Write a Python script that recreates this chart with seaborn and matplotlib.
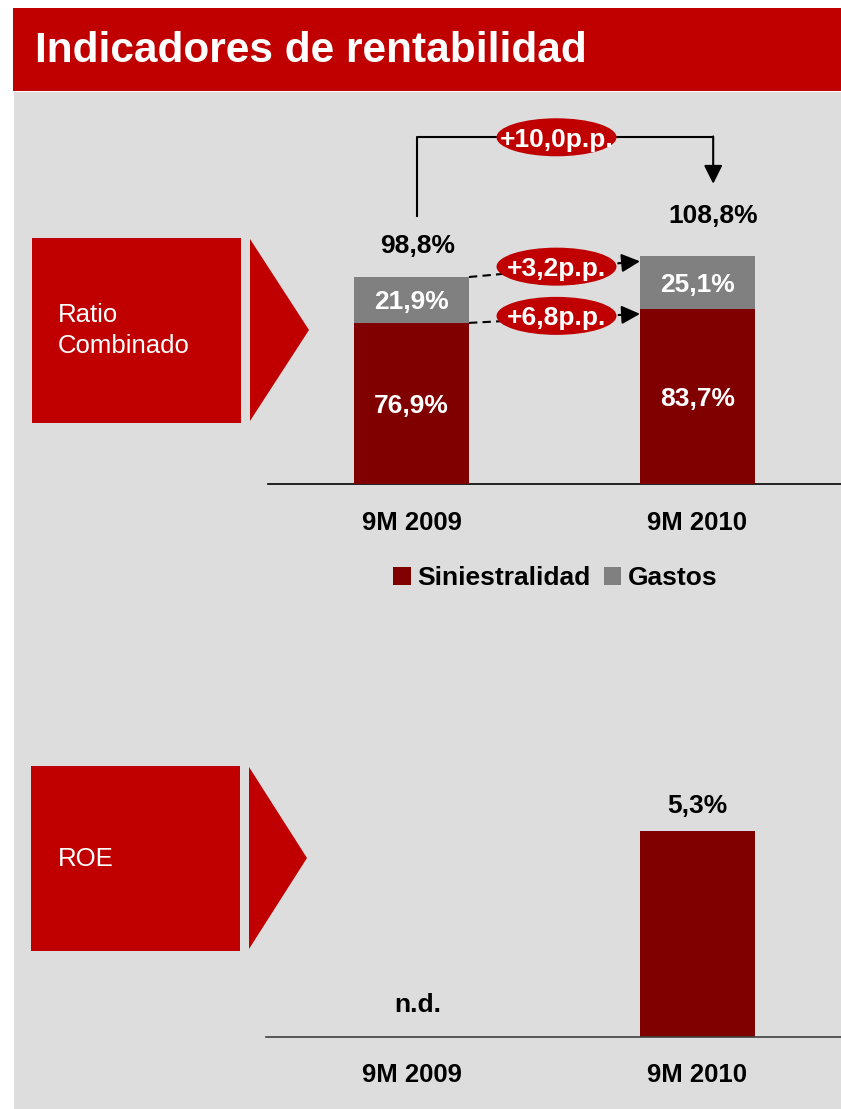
import numpy as np
import pandas as pd
import matplotlib
matplotlib.use("Agg")
import matplotlib.pyplot as plt
from matplotlib.patches import Rectangle, Polygon, Ellipse, Patch
from matplotlib.transforms import offset_copy
import seaborn as sns

# ---------------- data ----------------
periods = ["9M 2009", "9M 2010"]
siniestralidad = [76.9, 83.7]
gastos = [21.9, 25.1]
roe = [np.nan, 5.3]
roe_labels = ["n.d.", "5,3%"]
delta_total = "+10,0p.p."
delta_gastos = "+3,2p.p."
delta_sini = "+6,8p.p."
title = "Indicadores de rentabilidad"
section_labels = ["Ratio\nCombinado", "ROE"]
legend_labels = ["Siniestralidad", "Gastos"]

RED = "#C00000"
DARK = "#800000"
GRAY = "#808080"
BG = "#DDDDDD"

sns.set_style("white")
plt.rcParams["font.family"] = ["Liberation Sans", "DejaVu Sans"]
plt.rcParams["text.color"] = "black"
plt.rcParams["xtick.color"] = "black"
plt.rcParams["xtick.labelcolor"] = "black"

W, H = 841, 1109
fig = plt.figure(figsize=(W / 100, H / 100), dpi=100, facecolor="white")


def fx(x):
    return x / W


def fy(y):
    return 1 - y / H


def add_rect(x0, y0, x1, y1, color):
    fig.patches.append(Rectangle((fx(x0), fy(y1)), fx(x1) - fx(x0), fy(y0) - fy(y1),
                                 transform=fig.transFigure, facecolor=color,
                                 edgecolor="none", zorder=-5))


# background + title band
add_rect(14, 92, W, H, BG)
add_rect(13, 8, W, 91, RED)
fig.text(fx(35), fy(51), title, color="white", fontsize=30.5, fontweight="bold",
         ha="left", va="center")

# section boxes with chevrons
for (bx0, by0, bx1, by1, cx0, cx1, cy0, cy1), lab in zip(
        [(32, 238, 241, 423, 250, 309, 239, 421),
         (31, 766, 240, 951, 249, 307, 767, 949)], section_labels):
    add_rect(bx0, by0, bx1, by1, RED)
    fig.patches.append(Polygon([(fx(cx0), fy(cy0)), (fx(cx1), fy((cy0 + cy1) / 2)),
                                (fx(cx0), fy(cy1))], closed=True,
                               transform=fig.transFigure, facecolor=RED,
                               edgecolor="none", zorder=-5))
    fig.text(fx(58), fy((by0 + by1) / 2), lab, color="white", fontsize=18.5,
             ha="left", va="center", linespacing=1.38)

# ---------------- top chart: combined ratio ----------------
df = pd.DataFrame({"periodo": periods, "siniestralidad": siniestralidad, "gastos": gastos})
df["total"] = df["siniestralidad"] + df["gastos"]

bar_w = 0.402
ax1 = fig.add_axes([fx(268), fy(484), fx(W) - fx(268), fy(110) - fy(484)])
ax1.set_facecolor("none")
sns.barplot(data=df, x="periodo", y="total", order=periods, color=GRAY, saturation=1,
            width=bar_w, errorbar=None, ax=ax1, zorder=2, linewidth=0, edgecolor="none")
sns.barplot(data=df, x="periodo", y="siniestralidad", order=periods, color=DARK,
            saturation=1, width=bar_w, errorbar=None, ax=ax1, zorder=3, linewidth=0,
            edgecolor="none")
ax1.set_xlim(-0.502, 1.502)
ax1.set_ylim(0, (484 - 110) / 2.095)


def fmt(v):
    return f"{v:.1f}".replace(".", ",") + "%"


FS = 19


def label(ax, x, y, text, color, zorder=5, size=FS):
    # visually centre cap-height text on (x, y)
    tr = offset_copy(ax.transData, fig=fig, y=-0.36 * size * 100 / 72, units="dots")
    ax.text(x, y, text, color=color, fontsize=size, fontweight="bold", ha="center",
            va="baseline", transform=tr, clip_on=False, zorder=zorder)


for i, row in df.iterrows():
    label(ax1, i, row["siniestralidad"] / 2, fmt(row["siniestralidad"]), "white")
    label(ax1, i, row["siniestralidad"] + row["gastos"] / 2, fmt(row["gastos"]), "white")

# totals above bars
tot_dx = [0.02, 0.055]
tot_dy = [16.0, 20.5]
tot_pos = []
for i, row in df.iterrows():
    x = i + tot_dx[i]
    y = row["total"] + tot_dy[i]
    tot_pos.append((x, y))
    label(ax1, x, y, fmt(row["total"]), "black")

# bracket with +10,0p.p.
y_top = 165.5
(xa, ya), (xb, yb) = tot_pos
ax1.plot([xa, xa, xb], [ya + 12.5, y_top, y_top], color="black", lw=1.5,
         clip_on=False, zorder=4, solid_capstyle="butt")
ax1.annotate("", xy=(xb, yb + 14), xytext=(xb, y_top + 0.4),
             arrowprops=dict(arrowstyle="-|>,head_length=0.8,head_width=0.4",
                             mutation_scale=14, color="black", lw=1.5,
                             shrinkA=0, shrinkB=0), annotation_clip=False, zorder=4)

ell_w = 120 / 286
ell_h = 38 / 2.095
x_mid = 0.5 + 0.007


def pill(x, y, text):
    ax1.add_patch(Ellipse((x, y), ell_w, ell_h, facecolor=RED, edgecolor="none",
                          clip_on=False, zorder=6))
    label(ax1, x, y, text, "white", zorder=7)


pill(x_mid, y_top, delta_total)

# dashed connectors between bars
x_start = 0 + bar_w / 2
x_end = 1 - bar_w / 2
for key_y, txt in [(df["total"].tolist(), delta_gastos),
                   (df["siniestralidad"].tolist(), delta_sini)]:
    y0 = key_y[0]
    y1 = key_y[1] - 2.5
    xm = x_end - 0.07
    ym = y0 + (y1 - y0) * (xm - x_start) / (x_end - x_start)
    ax1.plot([x_start, xm], [y0, ym], color="black", lw=1.5, dashes=(4, 2.5),
             clip_on=False, zorder=4)
    ax1.annotate("", xy=(x_end, y1), xytext=(xm, ym),
                 arrowprops=dict(arrowstyle="-|>,head_length=0.8,head_width=0.4",
                                 mutation_scale=14, color="black", lw=1.5,
                                 shrinkA=0, shrinkB=0), annotation_clip=False, zorder=4)
    pill(x_mid, (y0 + y1) / 2 + 1.2, txt)

# legend
handles = [Patch(facecolor=DARK, edgecolor="none"), Patch(facecolor=GRAY, edgecolor="none")]
leg = fig.legend(handles, legend_labels, loc="center", bbox_to_anchor=(fx(555.5), fy(578)),
                 ncol=2, frameon=False, prop=dict(size=19, weight="bold"),
                 handlelength=0.66, handleheight=0.66, handletextpad=0.25, columnspacing=0.5,
                 borderpad=0, borderaxespad=0)
for t in leg.get_texts():
    t.set_color("black")

# ---------------- bottom chart: ROE ----------------
df2 = pd.DataFrame({"periodo": periods, "roe": roe})
ax2 = fig.add_axes([fx(266), fy(1037), fx(W) - fx(266), fy(760) - fy(1037)])
ax2.set_facecolor("none")
sns.barplot(data=df2, x="periodo", y="roe", order=periods, color=DARK, saturation=1,
            width=0.4, errorbar=None, ax=ax2, zorder=2, linewidth=0, edgecolor="none")
ax2.set_xlim(-0.509, 1.502)
ax2.set_ylim(0, (1037 - 760) / 38.87)
for i, (v, lab) in enumerate(zip(roe, roe_labels)):
    if np.isnan(v):
        label(ax2, i + 0.02, 0.9, lab, "black")
    else:
        label(ax2, i, v + 0.72, lab, "black")

# axis styling
for ax, spc, pad in [(ax1, "black", 19.5), (ax2, "#404040", 18.5)]:
    for s in ["top", "right", "left"]:
        ax.spines[s].set_visible(False)
    ax.spines["bottom"].set_color(spc)
    ax.spines["bottom"].set_linewidth(1.2)
    ax.set_yticks([])
    ax.set_xlabel("")
    ax.set_ylabel("")
    ax.tick_params(axis="x", length=0, pad=pad, labelsize=18.5, labelcolor="black")
    for t in ax.get_xticklabels():
        t.set_fontweight("bold")

fig.savefig("out.png", dpi=100, facecolor="white")
